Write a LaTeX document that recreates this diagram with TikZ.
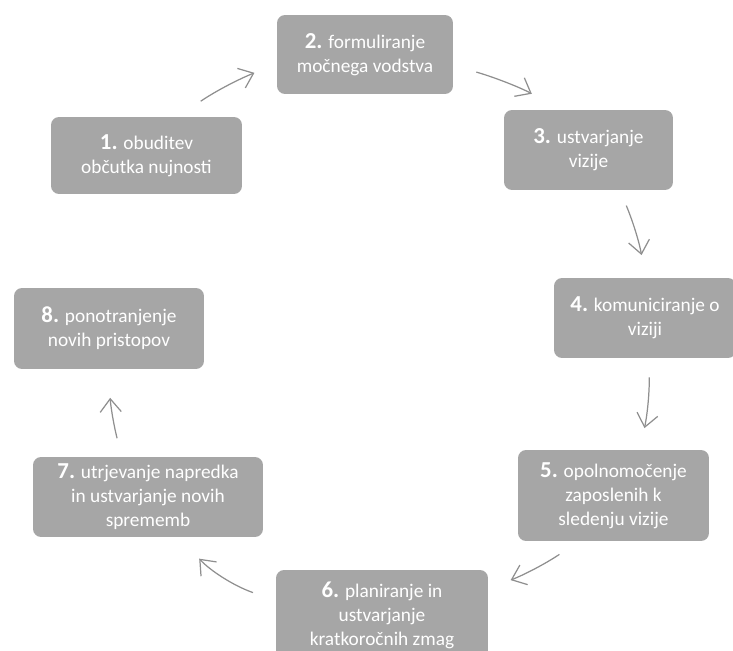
\documentclass[tikz,border=0pt]{standalone}
\usepackage{fontspec}
\setmainfont{Carlito}
\usepackage{tikz}
\usetikzlibrary{arrows.meta}
\definecolor{stepgray}{HTML}{A6A6A6}
\definecolor{arrowgray}{HTML}{8F8F8F}
\newcommand{\stepno}[1]{{\fontsize{13}{13}\selectfont\bfseries #1}}

\begin{document}
\begin{tikzpicture}[
    x=0.02cm, y=-0.02cm,
    >={Straight Barb[length=7.5pt,width=12pt]},
    box/.style={fill=stepgray, rounded corners=0.16cm, align=center, text=white, inner sep=2pt, font=\fontsize{11}{13.6}\selectfont},
    arrow/.style={->, arrowgray, line width=0.7pt, bend left=6}
]
\useasboundingbox (0,0) rectangle (733,651);

% ---- Steps ----
\node[box, minimum width=3.82cm, minimum height=1.54cm] (urgency) at (146.5,155.5) {\stepno{1.} obuditev\\občutka nujnosti};
\node[box, minimum width=3.52cm, minimum height=1.58cm] (coalition) at (365,54.5) {\stepno{2.} formuliranje\\močnega vodstva};
\node[box, minimum width=3.38cm, minimum height=1.60cm] (vision) at (588.5,150) {\stepno{3.} ustvarjanje\\vizije};
\node[box, minimum width=3.64cm, minimum height=1.60cm] (communicate) at (645,318) {\stepno{4.} komuniciranje o\\viziji};
\node[box, minimum width=3.82cm, minimum height=1.82cm] (empower) at (613.5,495.5) {\stepno{5.} opolnomočenje\\zaposlenih k\\sledenju vizije};
\node[box, minimum width=4.24cm, minimum height=1.82cm] (wins) at (382,615.5) {\stepno{6.} planiranje in\\ustvarjanje\\kratkoročnih zmag};
\node[box, minimum width=4.60cm, minimum height=1.60cm] (consolidate) at (148,497) {\stepno{7.} utrjevanje napredka\\in ustvarjanje novih\\sprememb};
\node[box, minimum width=3.80cm, minimum height=1.62cm] (anchor) at (109,328.5) {\stepno{8.} ponotranjenje\\novih pristopov};

% ---- Cycle arrows ----
\draw[arrow, shorten <=0.55cm, shorten >=0.48cm] (urgency.51) to (coalition.186);
\draw[arrow, shorten <=0.48cm, shorten >=0.67cm] (coalition.-7) to (vision.124);
\draw[arrow, shorten <=0.33cm, shorten >=0.46cm] (vision.-52) to (communicate.89);
\draw[arrow, shorten <=0.38cm, shorten >=0.44cm] (communicate.-84) to (empower.60);
\draw[arrow, shorten <=0.47cm, shorten >=0.48cm] (empower.-127) to (wins.14);
\draw[arrow, bend left=14, shorten <=0.48cm, shorten >=0.58cm] (wins.172) to (consolidate.-52);
\draw[arrow, shorten <=0.38cm, shorten >=0.57cm] (consolidate.123) to (anchor.-90);

\end{tikzpicture}
\end{document}
